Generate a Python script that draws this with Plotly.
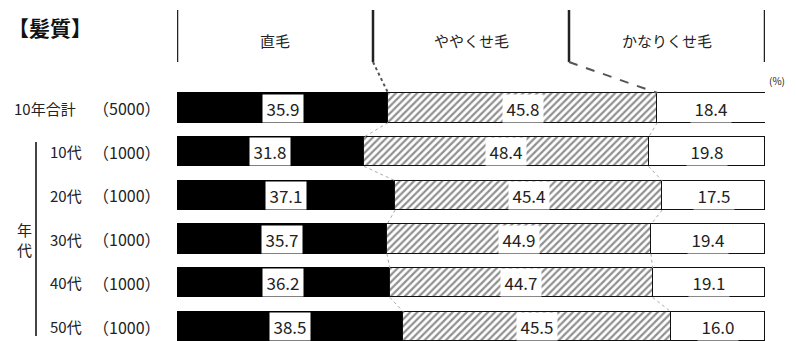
import plotly.graph_objects as go

rows = ["10年合計", "10代", "20代", "30代", "40代", "50代"]
counts = ["（5000）", "（1000）", "（1000）", "（1000）", "（1000）", "（1000）"]
straight = [35.9, 31.8, 37.1, 35.7, 36.2, 38.5]
slightly = [45.8, 48.4, 45.4, 44.9, 44.7, 45.5]
very = [18.4, 19.8, 17.5, 19.4, 19.1, 16.0]
headers = ["直毛", "ややくせ毛", "かなりくせ毛"]
title = "【髪質】"
group_label = "年<br>代"

OFF = 8  # page body margin
W, H = 796 - OFF, 341 - OFF
L, R = 177 - OFF, 765 - OFF
FONT = "Noto Sans CJK JP"


def px(x):
    return (x - OFF - L) / (R - L)


def py(y):
    return 1 - (y - OFF) / H


ypos = list(range(len(rows)))
BW = 0.67
fig = go.Figure()
fig.add_bar(y=ypos, x=straight, orientation="h", width=BW,
            marker=dict(color="black", line=dict(color="black", width=1)))
fig.add_bar(y=ypos, x=slightly, orientation="h", width=BW,
            marker=dict(color="white", line=dict(color="#111", width=1.5),
                        pattern=dict(shape="/", fgcolor="#222", bgcolor="white",
                                     size=5, solidity=0.45)))
fig.add_bar(y=ypos, x=very, orientation="h", width=BW,
            marker=dict(color="white", line=dict(color="#111", width=1.5)))

ann = []
shapes = []
for i in range(len(rows)):
    a, b, c = straight[i], slightly[i], very[i]
    for xc, v in [(a / 2, a), (a + b / 2, b), (a + b + c / 2, c)]:
        ann.append(dict(x=xc, y=i, xref="x", yref="y", text=f"{v:.1f}", showarrow=False,
                        xanchor="center", yanchor="middle",
                        bgcolor="white", borderpad=0, width=40, height=27,
                        font=dict(family=FONT, size=17, color="#222")))
    ann.append(dict(x=px(163), y=i, xref="paper", yref="y", text=counts[i], showarrow=False,
                    xanchor="right", yanchor="middle",
                    font=dict(family=FONT, size=16, color="#222")))
    ann.append(dict(x=px(12 if i == 0 else 48), y=i, xref="paper", yref="y", text=rows[i],
                    showarrow=False, xanchor="left", yanchor="middle",
                    font=dict(family=FONT, size=15, color="#222")))
    if i > 0:
        for k in (0, 1):
            prev = straight[i - 1] + (slightly[i - 1] if k else 0)
            cur = a + (b if k else 0)
            shapes.append(dict(type="line", xref="x", yref="y", x0=prev, y0=i - 1 + BW / 2,
                               x1=cur, y1=i - BW / 2,
                               line=dict(color="#aaa", width=1, dash="dot")))

# header
for k, h in enumerate(headers):
    ann.append(dict(x=(k + 0.5) * 100 / 3, y=py(40), xref="x", yref="paper", text=h,
                    showarrow=False, xanchor="center", yanchor="middle",
                    font=dict(family=FONT, size=15, color="#222")))
for k in range(4):
    shapes.append(dict(type="line", xref="x", yref="paper", x0=k * 100 / 3, x1=k * 100 / 3,
                       y0=py(10), y1=py(62), line=dict(color="#222", width=2.5)))
shapes.append(dict(type="line", xref="x", yref="paper", x0=100 / 3, y0=py(62),
                   x1=straight[0], y1=py(93), line=dict(color="#555", width=2, dash="dot")))
shapes.append(dict(type="line", xref="x", yref="paper", x0=200 / 3, y0=py(62),
                   x1=straight[0] + slightly[0], y1=py(93),
                   line=dict(color="#555", width=2, dash="dash")))

ann.append(dict(x=px(6), y=py(27), xref="paper", yref="paper", text="<b>" + title + "</b>",
                showarrow=False, xanchor="left", yanchor="middle",
                font=dict(family=FONT, size=21, color="#111")))
ann.append(dict(x=px(787), y=py(80), xref="paper", yref="paper", text="(%)",
                showarrow=False, xanchor="right", yanchor="middle",
                font=dict(family=FONT, size=10, color="#222")))
ann.append(dict(x=px(24), y=py(239), xref="paper", yref="paper", text=group_label,
                showarrow=False, xanchor="center", yanchor="middle",
                font=dict(family=FONT, size=15, color="#222")))
shapes.append(dict(type="line", xref="paper", yref="paper", x0=px(36), x1=px(36),
                   y0=py(142), y1=py(336), line=dict(color="#444", width=2)))

sp = 43.7
y0c = 108 - OFF
fig.update_layout(
    width=W, height=H, barmode="stack", showlegend=False, bargap=0,
    margin=dict(l=L, r=W - R, t=0, b=0),
    paper_bgcolor="white", plot_bgcolor="white",
    xaxis=dict(range=[0, 100], visible=False, fixedrange=True),
    yaxis=dict(range=[(H - y0c) / sp, -y0c / sp], visible=False, fixedrange=True),
    annotations=ann, shapes=shapes,
)
fig.write_html("out.html")
